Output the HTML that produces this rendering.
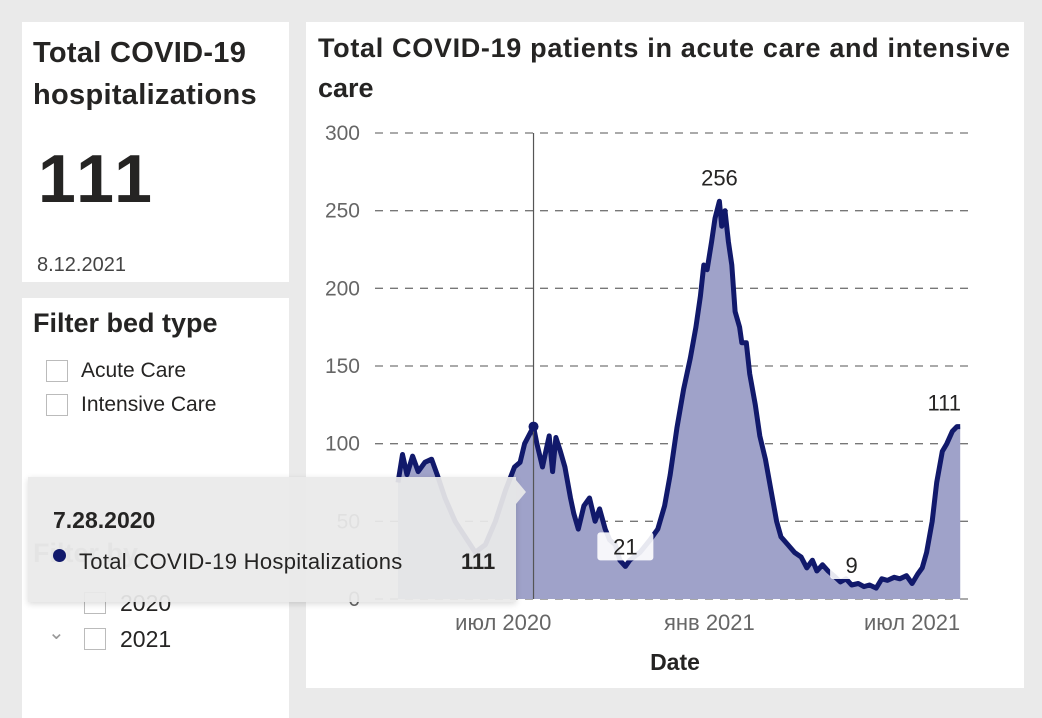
<!DOCTYPE html>
<html><head><meta charset="utf-8">
<style>
body{margin:0;width:1042px;height:705px;background:#eaeaea;font-family:"Liberation Sans","DejaVu Sans",sans-serif;position:relative;overflow:hidden;color:#252423}
.card{position:absolute;background:#fff;}
.t{position:absolute;white-space:nowrap}
.cb{position:absolute;width:22px;height:22px;border:1px solid #bbb;background:#fff;box-sizing:border-box}
</style></head><body>
<div class="card" style="left:22px;top:22px;width:267px;height:260px">
 <div class="t" style="left:11px;top:10px;font-size:29px;font-weight:bold;line-height:42px;letter-spacing:0.3px">Total COVID-19<br>hospitalizations</div>
 <div class="t" style="left:16px;top:118px;font-size:68px;font-weight:bold;letter-spacing:4px">111</div>
 <div class="t" style="left:15px;top:232px;font-size:20px;color:#444">8.12.2021</div>
</div>
<div class="card" style="left:22px;top:298px;width:267px;height:420px">
 <div class="t" style="left:11px;top:10px;font-size:27px;font-weight:bold">Filter bed type</div>
 <div class="cb" style="left:24px;top:62px"></div>
 <div class="t" style="left:59px;top:61px;font-size:21px">Acute Care</div>
 <div class="cb" style="left:24px;top:96px"></div>
 <div class="t" style="left:59px;top:95px;font-size:21px">Intensive Care</div>
 <div class="t" style="left:11px;top:240px;font-size:27px;font-weight:bold;color:#999">Filter by</div>
 <div class="cb" style="left:62px;top:294px"></div>
 <div class="t" style="left:98px;top:292px;font-size:23px">2020</div>
 <div class="t" style="left:26px;top:322px;font-size:20px;color:#999">&#8964;</div>
 <div class="cb" style="left:62px;top:330px"></div>
 <div class="t" style="left:98px;top:328px;font-size:23px">2021</div>
</div>
<div class="card" style="left:306px;top:22px;width:718px;height:666px"></div>
<svg id="chart" width="1042" height="705" style="position:absolute;left:0;top:0">
 <text x="318" y="57" font-size="27" font-weight="bold" fill="#252423" textLength="692" lengthAdjust="spacing">Total COVID-19 patients in acute care and intensive</text>
 <text x="318" y="97" font-size="27" font-weight="bold" fill="#252423">care</text>
 <g id="grid"></g><g id="series"></g><g id="labels"></g>
 <text x="675" y="670" font-size="23" font-weight="bold" text-anchor="middle" fill="#252423">Date</text>
</svg>
<div style="position:absolute;left:28px;top:477px;width:488px;height:125px;background:rgba(234,234,234,0.93);box-shadow:0 2px 6px rgba(0,0,0,0.15)">
 <div class="t" style="left:25px;top:30px;font-size:23px;font-weight:bold">7.28.2020</div>
 <div class="t" style="left:25px;top:72px;width:13px;height:13px;border-radius:50%;background:#11196b"></div>
 <div class="t" style="left:51px;top:72px;font-size:22px;letter-spacing:0.3px">Total COVID-19 Hospitalizations</div>
 <div class="t" style="left:433px;top:72px;font-size:22px;font-weight:bold">111</div>
</div>
<div style="position:absolute;left:516px;top:480px;width:0;height:0;border-top:12px solid transparent;border-bottom:12px solid transparent;border-left:10px solid rgba(234,234,234,0.93)"></div>
<script>
const startDate=new Date(2020,2,29);
const dayOffsets=[0,4,8,13,18,24,30,35,42,51,60,69,78,87,96,104,109,113,121,124,129,132,135,138,141,145,149,154,157,161,166,171,176,180,185,189,194,198,203,207,216,225,232,238,243,249,255,261,266,270,273,276,280,283,287,289,292,295,298,301,305,307,311,314,319,323,328,333,338,342,348,354,360,365,370,374,379,384,389,395,400,405,411,416,421,427,432,437,443,448,454,459,464,468,472,477,481,486,490,495,499,502];
const values=[75,93,80,92,82,88,90,80,65,50,40,30,35,50,70,85,88,100,111,100,85,95,105,82,104,95,85,65,55,45,60,65,50,58,45,38,35,25,21,25,30,38,45,60,80,110,135,155,175,195,215,212,230,245,256,240,250,230,215,185,175,165,165,145,125,105,90,70,50,40,35,30,27,20,25,18,22,18,15,11,13,9,10,8,9,7,13,12,14,13,15,10,16,20,30,50,75,95,100,108,111,111];
const yTicks=[0,50,100,150,200,250,300];
const xTickLabels=["июл 2020","янв 2021","июл 2021"];
const xTickDates=[new Date(2020,6,1),new Date(2021,0,1),new Date(2021,6,1)];
const pointLabels=[{i:38,t:"21",box:true},{i:54,t:"256"},{i:81,t:"9",box:true},{i:101,t:"111"}];
const hoverIndex=18;
const NS="http://www.w3.org/2000/svg";
const y=v=>599-v*(466/300);
const dayMs=86400000;
const xd=d=>398+((d-startDate)/dayMs)*1.12;
const x=off=>398+off*1.12;
function mk(tag,a,p){const e=document.createElementNS(NS,tag);for(const k in a)e.setAttribute(k,a[k]);p.appendChild(e);return e;}
const grid=document.getElementById('grid'),ser=document.getElementById('series'),lab=document.getElementById('labels');
yTicks.forEach(v=>{
 const l=mk('line',{x1:375,x2:970,y1:y(v),y2:y(v),stroke:'#777','stroke-dasharray':'8,7','stroke-width':1.3},grid);
 
 
 const t=mk('text',{x:360,y:y(v)+7,'font-size':21,'text-anchor':'end',fill:'#666'},grid);
 t.textContent=v;
 
 
});
xTickLabels.forEach((s,i)=>{
 const t=mk('text',{x:xd(xTickDates[i]),y:630,'font-size':22,'text-anchor':'middle',fill:'#666'},grid);
 t.textContent=s;
 
 
});
let pts=dayOffsets.map((d,i)=>x(d).toFixed(1)+','+y(values[i]).toFixed(1));
const area=mk('path',{d:'M'+x(dayOffsets[0])+','+y(0)+' L'+pts.join(' L')+' L'+x(dayOffsets[dayOffsets.length-1])+','+y(0)+'Z',fill:'#9fa2c9'},ser);


const line=mk('polyline',{points:pts.join(' '),fill:'none',stroke:'#11196b','stroke-width':5,'stroke-linejoin':'round'},ser);


const hx=x(dayOffsets[hoverIndex]);
const hl=mk('line',{x1:hx,x2:hx,y1:133,y2:599,stroke:'#555','stroke-width':1.2},ser);


const hd=mk('circle',{cx:hx,cy:y(values[hoverIndex]),r:5,fill:'#11196b'},ser);


pointLabels.forEach((p,k)=>{
 const px=x(dayOffsets[p.i])-(k===3?16:0),py=y(values[p.i]);
 if(p.box){
  const w=p.t.length*13+30;
  const r=mk('rect',{x:px-w/2,y:py-34,width:w,height:28,rx:3,fill:'#fff','fill-opacity':0.9},lab);
  
  
 }
 const t=mk('text',{x:px,y:p.box?py-12:py-16,'font-size':22,'text-anchor':'middle',fill:'#252423'},lab);
 t.textContent=p.t;
 
 
});
</script>
</body></html>
